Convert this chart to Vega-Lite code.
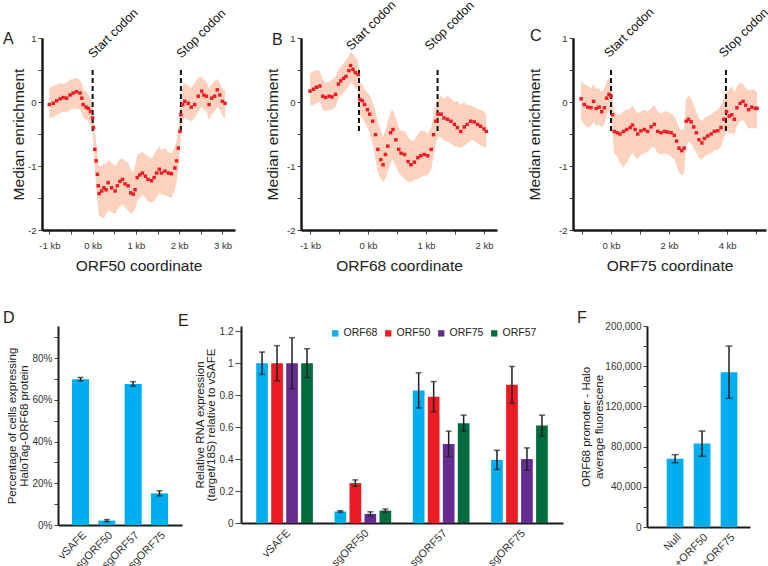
{
  "$schema": "https://vega.github.io/schema/vega-lite/v6.json",
  "padding": {"left": 3, "top": -2, "right": 0, "bottom": 0},
  "datasets": {
    "profile": [
      {"orf":"ORF50","kb":-1.0,"med":-0.04,"lo":-0.25,"hi":0.22},
      {"orf":"ORF50","kb":-0.91,"med":-0.02,"lo":-0.24,"hi":0.25},
      {"orf":"ORF50","kb":-0.83,"med":0.02,"lo":-0.2,"hi":0.27},
      {"orf":"ORF50","kb":-0.75,"med":0.05,"lo":-0.17,"hi":0.3},
      {"orf":"ORF50","kb":-0.68,"med":0.07,"lo":-0.15,"hi":0.28},
      {"orf":"ORF50","kb":-0.6,"med":0.06,"lo":-0.16,"hi":0.3},
      {"orf":"ORF50","kb":-0.52,"med":0.11,"lo":-0.12,"hi":0.35},
      {"orf":"ORF50","kb":-0.45,"med":0.14,"lo":-0.1,"hi":0.36},
      {"orf":"ORF50","kb":-0.37,"med":0.16,"lo":-0.1,"hi":0.38},
      {"orf":"ORF50","kb":-0.29,"med":0.14,"lo":-0.12,"hi":0.34},
      {"orf":"ORF50","kb":-0.25,"med":0.06,"lo":-0.18,"hi":0.3},
      {"orf":"ORF50","kb":-0.22,"med":-0.04,"lo":-0.24,"hi":0.2},
      {"orf":"ORF50","kb":-0.15,"med":-0.08,"lo":-0.28,"hi":0.16},
      {"orf":"ORF50","kb":-0.1,"med":-0.1,"lo":-0.3,"hi":0.12},
      {"orf":"ORF50","kb":-0.05,"med":-0.15,"lo":-0.36,"hi":0.06},
      {"orf":"ORF50","kb":0.0,"med":-0.25,"lo":-0.45,"hi":-0.02},
      {"orf":"ORF50","kb":0.02,"med":-0.4,"lo":-0.65,"hi":-0.15},
      {"orf":"ORF50","kb":0.05,"med":-0.74,"lo":-1.05,"hi":-0.45},
      {"orf":"ORF50","kb":0.08,"med":-0.92,"lo":-1.3,"hi":-0.6},
      {"orf":"ORF50","kb":0.11,"med":-1.13,"lo":-1.55,"hi":-0.8},
      {"orf":"ORF50","kb":0.13,"med":-1.31,"lo":-1.7,"hi":-0.95},
      {"orf":"ORF50","kb":0.15,"med":-1.43,"lo":-1.78,"hi":-1.0},
      {"orf":"ORF50","kb":0.21,"med":-1.39,"lo":-1.8,"hi":-1.0},
      {"orf":"ORF50","kb":0.26,"med":-1.34,"lo":-1.82,"hi":-0.95},
      {"orf":"ORF50","kb":0.31,"med":-1.37,"lo":-1.75,"hi":-0.98},
      {"orf":"ORF50","kb":0.36,"med":-1.26,"lo":-1.7,"hi":-0.9},
      {"orf":"ORF50","kb":0.44,"med":-1.34,"lo":-1.72,"hi":-0.95},
      {"orf":"ORF50","kb":0.52,"med":-1.39,"lo":-1.75,"hi":-1.0},
      {"orf":"ORF50","kb":0.57,"med":-1.31,"lo":-1.68,"hi":-0.95},
      {"orf":"ORF50","kb":0.63,"med":-1.24,"lo":-1.62,"hi":-0.9},
      {"orf":"ORF50","kb":0.69,"med":-1.21,"lo":-1.6,"hi":-0.88},
      {"orf":"ORF50","kb":0.75,"med":-1.28,"lo":-1.65,"hi":-0.92},
      {"orf":"ORF50","kb":0.82,"med":-1.31,"lo":-1.7,"hi":-0.95},
      {"orf":"ORF50","kb":0.88,"med":-1.42,"lo":-1.75,"hi":-1.05},
      {"orf":"ORF50","kb":0.94,"med":-1.44,"lo":-1.72,"hi":-1.1},
      {"orf":"ORF50","kb":0.98,"med":-1.37,"lo":-1.68,"hi":-1.0},
      {"orf":"ORF50","kb":1.03,"med":-1.18,"lo":-1.55,"hi":-0.82},
      {"orf":"ORF50","kb":1.09,"med":-1.14,"lo":-1.5,"hi":-0.8},
      {"orf":"ORF50","kb":1.15,"med":-1.11,"lo":-1.45,"hi":-0.78},
      {"orf":"ORF50","kb":1.22,"med":-1.16,"lo":-1.5,"hi":-0.82},
      {"orf":"ORF50","kb":1.28,"med":-1.21,"lo":-1.55,"hi":-0.85},
      {"orf":"ORF50","kb":1.36,"med":-1.23,"lo":-1.58,"hi":-0.88},
      {"orf":"ORF50","kb":1.42,"med":-1.18,"lo":-1.55,"hi":-0.82},
      {"orf":"ORF50","kb":1.48,"med":-1.11,"lo":-1.48,"hi":-0.75},
      {"orf":"ORF50","kb":1.54,"med":-1.05,"lo":-1.42,"hi":-0.7},
      {"orf":"ORF50","kb":1.59,"med":-1.11,"lo":-1.45,"hi":-0.75},
      {"orf":"ORF50","kb":1.67,"med":-1.08,"lo":-1.45,"hi":-0.72},
      {"orf":"ORF50","kb":1.75,"med":-1.11,"lo":-1.48,"hi":-0.78},
      {"orf":"ORF50","kb":1.82,"med":-1.12,"lo":-1.5,"hi":-0.8},
      {"orf":"ORF50","kb":1.9,"med":-1.03,"lo":-1.38,"hi":-0.7},
      {"orf":"ORF50","kb":1.94,"med":-0.92,"lo":-1.25,"hi":-0.6},
      {"orf":"ORF50","kb":1.98,"med":-0.72,"lo":-1.05,"hi":-0.4},
      {"orf":"ORF50","kb":2.02,"med":-0.46,"lo":-0.75,"hi":-0.15},
      {"orf":"ORF50","kb":2.04,"med":-0.2,"lo":-0.45,"hi":0.1},
      {"orf":"ORF50","kb":2.08,"med":-0.04,"lo":-0.3,"hi":0.25},
      {"orf":"ORF50","kb":2.13,"med":0.01,"lo":-0.25,"hi":0.3},
      {"orf":"ORF50","kb":2.21,"med":-0.02,"lo":-0.28,"hi":0.25},
      {"orf":"ORF50","kb":2.28,"med":-0.08,"lo":-0.3,"hi":0.22},
      {"orf":"ORF50","kb":2.36,"med":-0.04,"lo":-0.25,"hi":0.3},
      {"orf":"ORF50","kb":2.44,"med":0.09,"lo":-0.15,"hi":0.38},
      {"orf":"ORF50","kb":2.52,"med":0.17,"lo":-0.08,"hi":0.4},
      {"orf":"ORF50","kb":2.57,"med":0.11,"lo":-0.12,"hi":0.35},
      {"orf":"ORF50","kb":2.63,"med":0.09,"lo":-0.15,"hi":0.32},
      {"orf":"ORF50","kb":2.69,"med":-0.04,"lo":-0.28,"hi":0.22},
      {"orf":"ORF50","kb":2.75,"med":0.06,"lo":-0.2,"hi":0.28},
      {"orf":"ORF50","kb":2.82,"med":0.09,"lo":-0.15,"hi":0.33},
      {"orf":"ORF50","kb":2.88,"med":0.19,"lo":-0.08,"hi":0.36},
      {"orf":"ORF50","kb":2.94,"med":0.11,"lo":-0.12,"hi":0.3},
      {"orf":"ORF50","kb":3.0,"med":0.01,"lo":-0.22,"hi":0.2},
      {"orf":"ORF50","kb":3.06,"med":-0.02,"lo":-0.25,"hi":0.18},
      {"orf":"ORF68","kb":-1.0,"med":0.17,"lo":-0.05,"hi":0.45},
      {"orf":"ORF68","kb":-0.94,"med":0.2,"lo":-0.05,"hi":0.48},
      {"orf":"ORF68","kb":-0.89,"med":0.23,"lo":-0.02,"hi":0.5},
      {"orf":"ORF68","kb":-0.83,"med":0.25,"lo":0.0,"hi":0.48},
      {"orf":"ORF68","kb":-0.78,"med":0.09,"lo":-0.12,"hi":0.35},
      {"orf":"ORF68","kb":-0.73,"med":0.07,"lo":-0.15,"hi":0.3},
      {"orf":"ORF68","kb":-0.67,"med":0.09,"lo":-0.12,"hi":0.32},
      {"orf":"ORF68","kb":-0.62,"med":0.08,"lo":-0.12,"hi":0.35},
      {"orf":"ORF68","kb":-0.56,"med":0.12,"lo":-0.08,"hi":0.4},
      {"orf":"ORF68","kb":-0.51,"med":0.28,"lo":0.05,"hi":0.5},
      {"orf":"ORF68","kb":-0.47,"med":0.33,"lo":0.1,"hi":0.55},
      {"orf":"ORF68","kb":-0.42,"med":0.37,"lo":0.15,"hi":0.6},
      {"orf":"ORF68","kb":-0.38,"med":0.4,"lo":0.18,"hi":0.65},
      {"orf":"ORF68","kb":-0.33,"med":0.49,"lo":0.25,"hi":0.72},
      {"orf":"ORF68","kb":-0.3,"med":0.57,"lo":0.3,"hi":0.78},
      {"orf":"ORF68","kb":-0.26,"med":0.51,"lo":0.28,"hi":0.75},
      {"orf":"ORF68","kb":-0.22,"med":0.46,"lo":0.22,"hi":0.7},
      {"orf":"ORF68","kb":-0.17,"med":0.43,"lo":0.18,"hi":0.65},
      {"orf":"ORF68","kb":-0.14,"med":0.04,"lo":-0.2,"hi":0.3},
      {"orf":"ORF68","kb":-0.1,"med":0.02,"lo":-0.25,"hi":0.28},
      {"orf":"ORF68","kb":-0.06,"med":-0.04,"lo":-0.3,"hi":0.2},
      {"orf":"ORF68","kb":-0.01,"med":-0.12,"lo":-0.4,"hi":0.15},
      {"orf":"ORF68","kb":0.03,"med":-0.19,"lo":-0.5,"hi":0.1},
      {"orf":"ORF68","kb":0.08,"med":-0.3,"lo":-0.65,"hi":0.0},
      {"orf":"ORF68","kb":0.13,"med":-0.51,"lo":-0.9,"hi":-0.15},
      {"orf":"ORF68","kb":0.17,"med":-0.74,"lo":-1.1,"hi":-0.3},
      {"orf":"ORF68","kb":0.22,"med":-0.9,"lo":-1.2,"hi":-0.45},
      {"orf":"ORF68","kb":0.26,"med":-0.98,"lo":-1.25,"hi":-0.55},
      {"orf":"ORF68","kb":0.3,"med":-0.82,"lo":-1.2,"hi":-0.45},
      {"orf":"ORF68","kb":0.34,"med":-0.69,"lo":-1.1,"hi":-0.3},
      {"orf":"ORF68","kb":0.39,"med":-0.48,"lo":-0.95,"hi":-0.15},
      {"orf":"ORF68","kb":0.43,"med":-0.43,"lo":-0.9,"hi":-0.12},
      {"orf":"ORF68","kb":0.48,"med":-0.59,"lo":-1.0,"hi":-0.25},
      {"orf":"ORF68","kb":0.53,"med":-0.74,"lo":-1.1,"hi":-0.4},
      {"orf":"ORF68","kb":0.57,"med":-0.8,"lo":-1.15,"hi":-0.45},
      {"orf":"ORF68","kb":0.63,"med":-0.82,"lo":-1.2,"hi":-0.45},
      {"orf":"ORF68","kb":0.69,"med":-0.93,"lo":-1.25,"hi":-0.55},
      {"orf":"ORF68","kb":0.74,"med":-0.98,"lo":-1.25,"hi":-0.6},
      {"orf":"ORF68","kb":0.8,"med":-0.94,"lo":-1.22,"hi":-0.6},
      {"orf":"ORF68","kb":0.86,"med":-0.87,"lo":-1.2,"hi":-0.5},
      {"orf":"ORF68","kb":0.91,"med":-0.84,"lo":-1.18,"hi":-0.45},
      {"orf":"ORF68","kb":0.97,"med":-0.82,"lo":-1.15,"hi":-0.45},
      {"orf":"ORF68","kb":1.03,"med":-0.84,"lo":-1.15,"hi":-0.5},
      {"orf":"ORF68","kb":1.09,"med":-0.74,"lo":-1.05,"hi":-0.4},
      {"orf":"ORF68","kb":1.13,"med":-0.51,"lo":-0.85,"hi":-0.2},
      {"orf":"ORF68","kb":1.17,"med":-0.3,"lo":-0.65,"hi":0.0},
      {"orf":"ORF68","kb":1.21,"med":-0.19,"lo":-0.55,"hi":0.05},
      {"orf":"ORF68","kb":1.26,"med":-0.19,"lo":-0.55,"hi":0.1},
      {"orf":"ORF68","kb":1.31,"med":-0.25,"lo":-0.6,"hi":0.05},
      {"orf":"ORF68","kb":1.37,"med":-0.27,"lo":-0.62,"hi":0.1},
      {"orf":"ORF68","kb":1.43,"med":-0.3,"lo":-0.65,"hi":0.05},
      {"orf":"ORF68","kb":1.49,"med":-0.35,"lo":-0.7,"hi":0.0},
      {"orf":"ORF68","kb":1.54,"med":-0.4,"lo":-0.7,"hi":0.02},
      {"orf":"ORF68","kb":1.6,"med":-0.46,"lo":-0.72,"hi":-0.05},
      {"orf":"ORF68","kb":1.66,"med":-0.39,"lo":-0.68,"hi":0.0},
      {"orf":"ORF68","kb":1.71,"med":-0.35,"lo":-0.65,"hi":-0.05},
      {"orf":"ORF68","kb":1.77,"med":-0.3,"lo":-0.6,"hi":-0.05},
      {"orf":"ORF68","kb":1.83,"med":-0.31,"lo":-0.6,"hi":-0.08},
      {"orf":"ORF68","kb":1.89,"med":-0.35,"lo":-0.65,"hi":-0.1},
      {"orf":"ORF68","kb":1.94,"med":-0.38,"lo":-0.68,"hi":-0.12},
      {"orf":"ORF68","kb":2.0,"med":-0.42,"lo":-0.7,"hi":-0.15},
      {"orf":"ORF68","kb":2.04,"med":-0.46,"lo":-0.72,"hi":-0.2},
      {"orf":"ORF75","kb":-1.03,"med":0.05,"lo":-0.28,"hi":0.32},
      {"orf":"ORF75","kb":-0.92,"med":-0.04,"lo":-0.35,"hi":0.28},
      {"orf":"ORF75","kb":-0.8,"med":-0.08,"lo":-0.4,"hi":0.25},
      {"orf":"ORF75","kb":-0.69,"med":-0.09,"lo":-0.38,"hi":0.22},
      {"orf":"ORF75","kb":-0.6,"med":0.01,"lo":-0.3,"hi":0.28},
      {"orf":"ORF75","kb":-0.51,"med":-0.1,"lo":-0.38,"hi":0.2},
      {"orf":"ORF75","kb":-0.41,"med":-0.08,"lo":-0.35,"hi":0.22},
      {"orf":"ORF75","kb":-0.32,"med":-0.15,"lo":-0.4,"hi":0.15},
      {"orf":"ORF75","kb":-0.23,"med":-0.09,"lo":-0.35,"hi":0.22},
      {"orf":"ORF75","kb":-0.15,"med":0.06,"lo":-0.22,"hi":0.32},
      {"orf":"ORF75","kb":-0.07,"med":0.12,"lo":-0.15,"hi":0.38},
      {"orf":"ORF75","kb":0.0,"med":0.09,"lo":-0.2,"hi":0.35},
      {"orf":"ORF75","kb":0.05,"med":-0.2,"lo":-0.5,"hi":0.05},
      {"orf":"ORF75","kb":0.11,"med":-0.46,"lo":-0.8,"hi":-0.15},
      {"orf":"ORF75","kb":0.21,"med":-0.48,"lo":-0.85,"hi":-0.2},
      {"orf":"ORF75","kb":0.31,"med":-0.5,"lo":-0.95,"hi":-0.2},
      {"orf":"ORF75","kb":0.43,"med":-0.46,"lo":-1.02,"hi":-0.15},
      {"orf":"ORF75","kb":0.54,"med":-0.43,"lo":-0.95,"hi":-0.12},
      {"orf":"ORF75","kb":0.66,"med":-0.4,"lo":-0.85,"hi":-0.1},
      {"orf":"ORF75","kb":0.74,"med":-0.36,"lo":-0.8,"hi":-0.05},
      {"orf":"ORF75","kb":0.83,"med":-0.43,"lo":-0.85,"hi":-0.12},
      {"orf":"ORF75","kb":0.92,"med":-0.5,"lo":-0.9,"hi":-0.18},
      {"orf":"ORF75","kb":1.03,"med":-0.45,"lo":-0.82,"hi":-0.15},
      {"orf":"ORF75","kb":1.15,"med":-0.43,"lo":-0.8,"hi":-0.12},
      {"orf":"ORF75","kb":1.26,"med":-0.46,"lo":-0.78,"hi":-0.15},
      {"orf":"ORF75","kb":1.38,"med":-0.39,"lo":-0.72,"hi":-0.1},
      {"orf":"ORF75","kb":1.49,"med":-0.35,"lo":-0.7,"hi":-0.05},
      {"orf":"ORF75","kb":1.61,"med":-0.46,"lo":-0.8,"hi":-0.15},
      {"orf":"ORF75","kb":1.72,"med":-0.48,"lo":-0.82,"hi":-0.18},
      {"orf":"ORF75","kb":1.84,"med":-0.46,"lo":-0.8,"hi":-0.15},
      {"orf":"ORF75","kb":1.95,"med":-0.47,"lo":-0.82,"hi":-0.15},
      {"orf":"ORF75","kb":2.07,"med":-0.48,"lo":-0.85,"hi":-0.18},
      {"orf":"ORF75","kb":2.18,"med":-0.52,"lo":-0.9,"hi":-0.22},
      {"orf":"ORF75","kb":2.26,"med":-0.61,"lo":-1.0,"hi":-0.3},
      {"orf":"ORF75","kb":2.34,"med":-0.72,"lo":-1.1,"hi":-0.4},
      {"orf":"ORF75","kb":2.44,"med":-0.76,"lo":-1.15,"hi":-0.45},
      {"orf":"ORF75","kb":2.52,"med":-0.72,"lo":-1.1,"hi":-0.4},
      {"orf":"ORF75","kb":2.59,"med":-0.3,"lo":-0.7,"hi":0.05},
      {"orf":"ORF75","kb":2.67,"med":-0.27,"lo":-0.62,"hi":0.1},
      {"orf":"ORF75","kb":2.76,"med":-0.31,"lo":-0.65,"hi":0.05},
      {"orf":"ORF75","kb":2.85,"med":-0.39,"lo":-0.72,"hi":-0.05},
      {"orf":"ORF75","kb":2.94,"med":-0.48,"lo":-0.8,"hi":-0.15},
      {"orf":"ORF75","kb":3.03,"med":-0.59,"lo":-0.88,"hi":-0.25},
      {"orf":"ORF75","kb":3.13,"med":-0.64,"lo":-0.9,"hi":-0.3},
      {"orf":"ORF75","kb":3.22,"med":-0.57,"lo":-0.85,"hi":-0.25},
      {"orf":"ORF75","kb":3.33,"med":-0.53,"lo":-0.82,"hi":-0.22},
      {"orf":"ORF75","kb":3.45,"med":-0.5,"lo":-0.8,"hi":-0.2},
      {"orf":"ORF75","kb":3.56,"med":-0.46,"lo":-0.75,"hi":-0.15},
      {"orf":"ORF75","kb":3.68,"med":-0.45,"lo":-0.75,"hi":-0.12},
      {"orf":"ORF75","kb":3.79,"med":-0.4,"lo":-0.7,"hi":-0.05},
      {"orf":"ORF75","kb":3.89,"med":-0.27,"lo":-0.55,"hi":0.05},
      {"orf":"ORF75","kb":3.98,"med":-0.15,"lo":-0.45,"hi":0.15},
      {"orf":"ORF75","kb":4.07,"med":-0.22,"lo":-0.5,"hi":0.2},
      {"orf":"ORF75","kb":4.16,"med":-0.2,"lo":-0.48,"hi":0.25},
      {"orf":"ORF75","kb":4.25,"med":-0.27,"lo":-0.52,"hi":0.15},
      {"orf":"ORF75","kb":4.34,"med":-0.09,"lo":-0.38,"hi":0.25},
      {"orf":"ORF75","kb":4.45,"med":-0.02,"lo":-0.3,"hi":0.3},
      {"orf":"ORF75","kb":4.55,"med":0.01,"lo":-0.28,"hi":0.28},
      {"orf":"ORF75","kb":4.64,"med":-0.05,"lo":-0.35,"hi":0.22},
      {"orf":"ORF75","kb":4.74,"med":-0.12,"lo":-0.42,"hi":0.18},
      {"orf":"ORF75","kb":4.85,"med":-0.08,"lo":-0.4,"hi":0.2},
      {"orf":"ORF75","kb":4.97,"med":-0.1,"lo":-0.42,"hi":0.18},
      {"orf":"ORF75","kb":5.03,"med":-0.1,"lo":-0.4,"hi":0.15}
    ],
    "codons": [
      {"orf":"ORF50","kb":0,"label":"Start codon"},
      {"orf":"ORF50","kb":2.04,"label":"Stop codon"},
      {"orf":"ORF68","kb":-0.155,"label":"Start codon"},
      {"orf":"ORF68","kb":1.2,"label":"Stop codon"},
      {"orf":"ORF75","kb":0,"label":"Start codon"},
      {"orf":"ORF75","kb":3.96,"label":"Stop codon"}
    ],
    "halo": [
      {"cond":"vSAFE","pct":70.0,"lo":69.2,"hi":70.8},
      {"cond":"sgORF50","pct":2.1,"lo":1.6,"hi":2.6},
      {"cond":"sgORF57","pct":67.7,"lo":66.6,"hi":68.8},
      {"cond":"sgORF75","pct":15.2,"lo":14.0,"hi":16.4}
    ],
    "rna": [
      {"cond":"vSAFE","gene":"ORF68","val":1.0,"lo":0.93,"hi":1.07},
      {"cond":"vSAFE","gene":"ORF50","val":1.0,"lo":0.89,"hi":1.11},
      {"cond":"vSAFE","gene":"ORF75","val":1.0,"lo":0.84,"hi":1.16},
      {"cond":"vSAFE","gene":"ORF57","val":1.0,"lo":0.91,"hi":1.09},
      {"cond":"sgORF50","gene":"ORF68","val":0.072,"lo":0.067,"hi":0.077},
      {"cond":"sgORF50","gene":"ORF50","val":0.25,"lo":0.23,"hi":0.27},
      {"cond":"sgORF50","gene":"ORF75","val":0.057,"lo":0.045,"hi":0.07},
      {"cond":"sgORF50","gene":"ORF57","val":0.078,"lo":0.068,"hi":0.088},
      {"cond":"sgORF57","gene":"ORF68","val":0.83,"lo":0.72,"hi":0.94},
      {"cond":"sgORF57","gene":"ORF50","val":0.79,"lo":0.695,"hi":0.885},
      {"cond":"sgORF57","gene":"ORF75","val":0.495,"lo":0.415,"hi":0.575},
      {"cond":"sgORF57","gene":"ORF57","val":0.625,"lo":0.575,"hi":0.675},
      {"cond":"sgORF75","gene":"ORF68","val":0.395,"lo":0.335,"hi":0.455},
      {"cond":"sgORF75","gene":"ORF50","val":0.865,"lo":0.75,"hi":0.98},
      {"cond":"sgORF75","gene":"ORF75","val":0.4,"lo":0.33,"hi":0.47},
      {"cond":"sgORF75","gene":"ORF57","val":0.61,"lo":0.545,"hi":0.675}
    ],
    "promoter": [
      {"cond":"Null","val":68000,"lo":64000,"hi":72000},
      {"cond":"+ORF50","val":83000,"lo":70500,"hi":95500},
      {"cond":"+ORF75","val":154000,"lo":128000,"hi":180000}
    ]
  },
  "spacing": 36,
  "vconcat": [
    {
      "bounds": "flush",
      "spacing": 10,
      "hconcat": [
        {
          "width": 193,
          "height": 192,
          "title": {"text": "A", "dx": -39, "dy": 45},
          "layer": [
            {
              "data": {"name": "profile"},
              "transform": [{"filter": "datum.orf === 'ORF50'"}],
              "mark": {"type": "area", "color": "#fcd2bf"},
              "encoding": {
                "x": {"field": "kb", "type": "quantitative", "scale": {"domain": [-1.17, 3.29], "nice": false, "zero": false},
                  "axis": {"title": "ORF50 coordinate", "values": [-1, -0.5, 0, 0.5, 1, 1.5, 2, 2.5, 3], "tickCount": 40, "labelExpr": "datum.value % 1 === 0 ? datum.value + ' kb' : ''", "titlePadding": 9, "labelPadding": 6}},
                "y": {"field": "lo", "type": "quantitative", "scale": {"domain": [-2, 1], "nice": false, "zero": false},
                  "axis": {"title": "Median enrichment", "values": [-2, -1.5, -1, -0.5, 0, 0.5, 1], "tickCount": 40, "labelExpr": "datum.value % 1 === 0 ? '' + datum.value : ''", "titlePadding": 1}},
                "y2": {"field": "hi"}
              }
            },
            {
              "data": {"name": "codons"},
              "transform": [{"filter": "datum.orf === 'ORF50'"}],
              "mark": {"type": "rule", "strokeDash": [5, 3], "strokeWidth": 2, "color": "#111111"},
              "encoding": {"x": {"field": "kb", "type": "quantitative"}, "y": {"datum": 0.5}, "y2": {"datum": -0.5}}
            },
            {
              "data": {"name": "profile"},
              "transform": [{"filter": "datum.orf === 'ORF50'"}],
              "mark": {"type": "point", "shape": "square", "filled": true, "size": 12, "color": "#ec1c24", "opacity": 1},
              "encoding": {"x": {"field": "kb", "type": "quantitative"}, "y": {"field": "med", "type": "quantitative"}}
            },
            {
              "data": {"name": "codons"},
              "transform": [{"filter": "datum.orf === 'ORF50'"}],
              "mark": {"type": "text", "angle": 315, "align": "left", "baseline": "alphabetic", "fontSize": 12.5, "dx": 8.5, "dy": -7.5, "color": "#111111"},
              "encoding": {"x": {"field": "kb", "type": "quantitative"}, "y": {"datum": 0.5}, "text": {"field": "label"}}
            }
          ]
        },
        {"width": 46, "height": 10, "data": {"values": []}, "mark": "point"},
        {
          "width": 196,
          "height": 192,
          "title": {"text": "B", "dx": -29, "dy": 53},
          "layer": [
            {
              "data": {"name": "profile"},
              "transform": [{"filter": "datum.orf === 'ORF68'"}],
              "mark": {"type": "area", "color": "#fcd2bf"},
              "encoding": {
                "x": {"field": "kb", "type": "quantitative", "scale": {"domain": [-1.155, 2.224], "nice": false, "zero": false},
                  "axis": {"title": "ORF68 coordinate", "values": [-1, -0.5, 0, 0.5, 1, 1.5, 2], "tickCount": 40, "labelExpr": "datum.value % 1 === 0 ? datum.value + ' kb' : ''", "titlePadding": 9, "labelPadding": 6}},
                "y": {"field": "lo", "type": "quantitative", "scale": {"domain": [-2, 1], "nice": false, "zero": false},
                  "axis": {"title": "Median enrichment", "values": [-2, -1.5, -1, -0.5, 0, 0.5, 1], "tickCount": 40, "labelExpr": "datum.value % 1 === 0 ? '' + datum.value : ''", "titlePadding": 6}},
                "y2": {"field": "hi"}
              }
            },
            {
              "data": {"name": "codons"},
              "transform": [{"filter": "datum.orf === 'ORF68'"}],
              "mark": {"type": "rule", "strokeDash": [5, 3], "strokeWidth": 2, "color": "#111111"},
              "encoding": {"x": {"field": "kb", "type": "quantitative"}, "y": {"datum": 0.5}, "y2": {"datum": -0.5}}
            },
            {
              "data": {"name": "profile"},
              "transform": [{"filter": "datum.orf === 'ORF68'"}],
              "mark": {"type": "point", "shape": "square", "filled": true, "size": 12, "color": "#ec1c24", "opacity": 1},
              "encoding": {"x": {"field": "kb", "type": "quantitative"}, "y": {"field": "med", "type": "quantitative"}}
            },
            {
              "data": {"name": "codons"},
              "transform": [{"filter": "datum.orf === 'ORF68'"}],
              "mark": {"type": "text", "angle": 315, "align": "left", "baseline": "alphabetic", "fontSize": 12.5, "dx": 8, "dy": -19, "color": "#111111"},
              "encoding": {"x": {"field": "kb", "type": "quantitative"}, "y": {"datum": 0.5}, "text": {"field": "label"}}
            }
          ]
        },
        {"width": 56, "height": 10, "data": {"values": []}, "mark": "point"},
        {
          "width": 193,
          "height": 192,
          "title": {"text": "C", "dx": -43, "dy": 42},
          "layer": [
            {
              "data": {"name": "profile"},
              "transform": [{"filter": "datum.orf === 'ORF75'"}],
              "mark": {"type": "area", "color": "#fcd2bf"},
              "encoding": {
                "x": {"field": "kb", "type": "quantitative", "scale": {"domain": [-1.31, 5.34], "nice": false, "zero": false},
                  "axis": {"title": "ORF75 coordinate", "values": [-1, 0, 1, 2, 3, 4, 5], "tickCount": 40, "labelExpr": "datum.value % 2 === 0 ? datum.value + ' kb' : ''", "titlePadding": 9, "labelPadding": 6}},
                "y": {"field": "lo", "type": "quantitative", "scale": {"domain": [-2, 1], "nice": false, "zero": false},
                  "axis": {"title": "Median enrichment", "values": [-2, -1.5, -1, -0.5, 0, 0.5, 1], "tickCount": 40, "labelExpr": "datum.value % 1 === 0 ? '' + datum.value : ''", "titlePadding": 16}},
                "y2": {"field": "hi"}
              }
            },
            {
              "data": {"name": "codons"},
              "transform": [{"filter": "datum.orf === 'ORF75'"}],
              "mark": {"type": "rule", "strokeDash": [5, 3], "strokeWidth": 2, "color": "#111111"},
              "encoding": {"x": {"field": "kb", "type": "quantitative"}, "y": {"datum": 0.5}, "y2": {"datum": -0.5}}
            },
            {
              "data": {"name": "profile"},
              "transform": [{"filter": "datum.orf === 'ORF75'"}],
              "mark": {"type": "point", "shape": "square", "filled": true, "size": 12, "color": "#ec1c24", "opacity": 1},
              "encoding": {"x": {"field": "kb", "type": "quantitative"}, "y": {"field": "med", "type": "quantitative"}}
            },
            {
              "data": {"name": "codons"},
              "transform": [{"filter": "datum.orf === 'ORF75'"}],
              "mark": {"type": "text", "angle": 315, "align": "left", "baseline": "alphabetic", "fontSize": 12.5, "dx": 7.2, "dy": -9.8, "color": "#111111"},
              "encoding": {"x": {"field": "kb", "type": "quantitative"}, "y": {"datum": 0.5}, "text": {"field": "label"}}
            }
          ]
        }
      ]
    },
    {
      "bounds": "flush",
      "spacing": 10,
      "hconcat": [
        {"width": 6, "height": 10, "data": {"values": []}, "mark": "point"},
        {
          "width": 124,
          "height": 199,
          "title": {"text": "D", "dx": -55, "dy": 4},
          "data": {"name": "halo"},
          "encoding": {
            "x": {"field": "cond", "type": "nominal", "sort": null, "scale": {"paddingInner": 0.35, "paddingOuter": 0.53},
              "axis": {"title": null, "labelAngle": -45, "labelAlign": "right", "labelBaseline": "top", "ticks": false, "labelFontSize": 11, "labelPadding": 4, "domainWidth": 2}}
          },
          "layer": [
            {
              "mark": {"type": "bar", "color": "#00aeef"},
              "encoding": {
                "y": {"field": "pct", "type": "quantitative", "scale": {"domain": [0, 95.5], "nice": false},
                  "axis": {"title": ["Percentage of cells expressing", "HaloTag-ORF68 protein"], "titleFontSize": 11.5, "titleLineHeight": 12, "titlePadding": 2, "values": [0, 10, 20, 30, 40, 50, 60, 70, 80, 90], "tickCount": 40, "labelExpr": "datum.value % 20 === 0 ? datum.value + '%' : ''", "labelFontSize": 10, "domainWidth": 2}}
              }
            },
            {
              "mark": {"type": "rule", "color": "#231f20", "strokeWidth": 1.5},
              "encoding": {"y": {"field": "lo", "type": "quantitative"}, "y2": {"field": "hi"}}
            },
            {
              "mark": {"type": "tick", "color": "#231f20", "size": 6, "thickness": 1.5},
              "encoding": {"y": {"field": "lo", "type": "quantitative"}}
            },
            {
              "mark": {"type": "tick", "color": "#231f20", "size": 6, "thickness": 1.5},
              "encoding": {"y": {"field": "hi", "type": "quantitative"}}
            }
          ]
        },
        {"width": 39, "height": 10, "data": {"values": []}, "mark": "point"},
        {
          "width": 322,
          "height": 197,
          "title": {"text": "E", "dx": -63, "dy": 7},
          "data": {"name": "rna"},
          "encoding": {
            "x": {"field": "cond", "type": "nominal", "sort": null, "scale": {"paddingInner": 0.234, "paddingOuter": 0.173},
              "axis": {"title": null, "labelAngle": -45, "labelAlign": "right", "labelBaseline": "top", "ticks": false, "labelFontSize": 11, "labelPadding": 4, "domainWidth": 2}},
            "xOffset": {"field": "gene", "type": "nominal", "sort": null, "scale": {"paddingInner": 0.22, "paddingOuter": 0.11}}
          },
          "layer": [
            {
              "mark": {"type": "bar"},
              "encoding": {
                "y": {"field": "val", "type": "quantitative", "scale": {"domain": [0, 1.233], "nice": false},
                  "axis": {"title": ["Relative RNA expression", "(target/18S) relative to vSAFE"], "titleFontSize": 11.5, "titleLineHeight": 10.5, "titlePadding": 3, "tickSize": 6, "values": [0, 0.2, 0.4, 0.6, 0.8, 1, 1.2], "tickCount": 40, "labelExpr": "'' + datum.value", "labelFontSize": 10, "domainWidth": 2}},
                "color": {"field": "gene", "type": "nominal",
                  "scale": {"domain": ["ORF68", "ORF50", "ORF75", "ORF57"], "range": ["#00aeef", "#ed1c24", "#662d91", "#006b3f"]},
                  "legend": {"orient": "none", "legendX": 288, "legendY": 290, "direction": "horizontal", "title": null, "symbolType": "square", "symbolSize": 40, "symbolStrokeWidth": 0, "labelFontSize": 10.5, "labelOffset": 3, "columnPadding": 5, "labelColor": "#222222"}}
              }
            },
            {
              "mark": {"type": "rule", "color": "#231f20", "strokeWidth": 1.5},
              "encoding": {"y": {"field": "lo", "type": "quantitative"}, "y2": {"field": "hi"}}
            },
            {
              "mark": {"type": "tick", "color": "#231f20", "size": 6, "thickness": 1.5},
              "encoding": {"y": {"field": "lo", "type": "quantitative"}}
            },
            {
              "mark": {"type": "tick", "color": "#231f20", "size": 6, "thickness": 1.5},
              "encoding": {"y": {"field": "hi", "type": "quantitative"}}
            }
          ]
        },
        {"width": 64, "height": 10, "data": {"values": []}, "mark": "point"},
        {
          "width": 103,
          "height": 201,
          "title": {"text": "F", "dx": -70, "dy": 9},
          "data": {"name": "promoter"},
          "encoding": {
            "x": {"field": "cond", "type": "nominal", "sort": null, "scale": {"paddingInner": 0.38, "paddingOuter": 0.6, "align": 0.61},
              "axis": {"title": null, "labelAngle": -45, "labelAlign": "right", "labelBaseline": "top", "ticks": false, "labelFontSize": 11, "labelPadding": 4, "domainWidth": 2}}
          },
          "layer": [
            {
              "mark": {"type": "bar", "color": "#00aeef"},
              "encoding": {
                "y": {"field": "val", "type": "quantitative", "scale": {"domain": [0, 200000], "nice": false},
                  "axis": {"title": ["ORF68 promoter - Halo", "average fluorescene"], "titleFontSize": 11.5, "titleLineHeight": 13, "titlePadding": 0, "values": [0, 20000, 40000, 60000, 80000, 100000, 120000, 140000, 160000, 180000, 200000], "tickCount": 40, "labelExpr": "datum.value % 40000 === 0 ? format(datum.value, ',') : ''", "labelFontSize": 10, "domainWidth": 2}}
              }
            },
            {
              "mark": {"type": "rule", "color": "#231f20", "strokeWidth": 1.5},
              "encoding": {"y": {"field": "lo", "type": "quantitative"}, "y2": {"field": "hi"}}
            },
            {
              "mark": {"type": "tick", "color": "#231f20", "size": 7, "thickness": 1.5},
              "encoding": {"y": {"field": "lo", "type": "quantitative"}}
            },
            {
              "mark": {"type": "tick", "color": "#231f20", "size": 7, "thickness": 1.5},
              "encoding": {"y": {"field": "hi", "type": "quantitative"}}
            }
          ]
        }
      ]
    }
  ],
  "config": {
    "font": "Liberation Sans",
    "view": {"stroke": null},
    "axis": {
      "grid": false,
      "domainColor": "#1a1a1a",
      "domainWidth": 2.5,
      "tickColor": "#444444",
      "tickSize": 4,
      "tickWidth": 1,
      "labelColor": "#333333",
      "labelFontSize": 9.5,
      "labelOverlap": false,
      "labelFlush": false,
      "titleColor": "#222222",
      "titleFontWeight": "normal",
      "titleFontSize": 15.5
    },
    "title": {"fontSize": 16, "fontWeight": "normal", "anchor": "start", "frame": "group", "color": "#222222", "offset": 0}
  }
}
